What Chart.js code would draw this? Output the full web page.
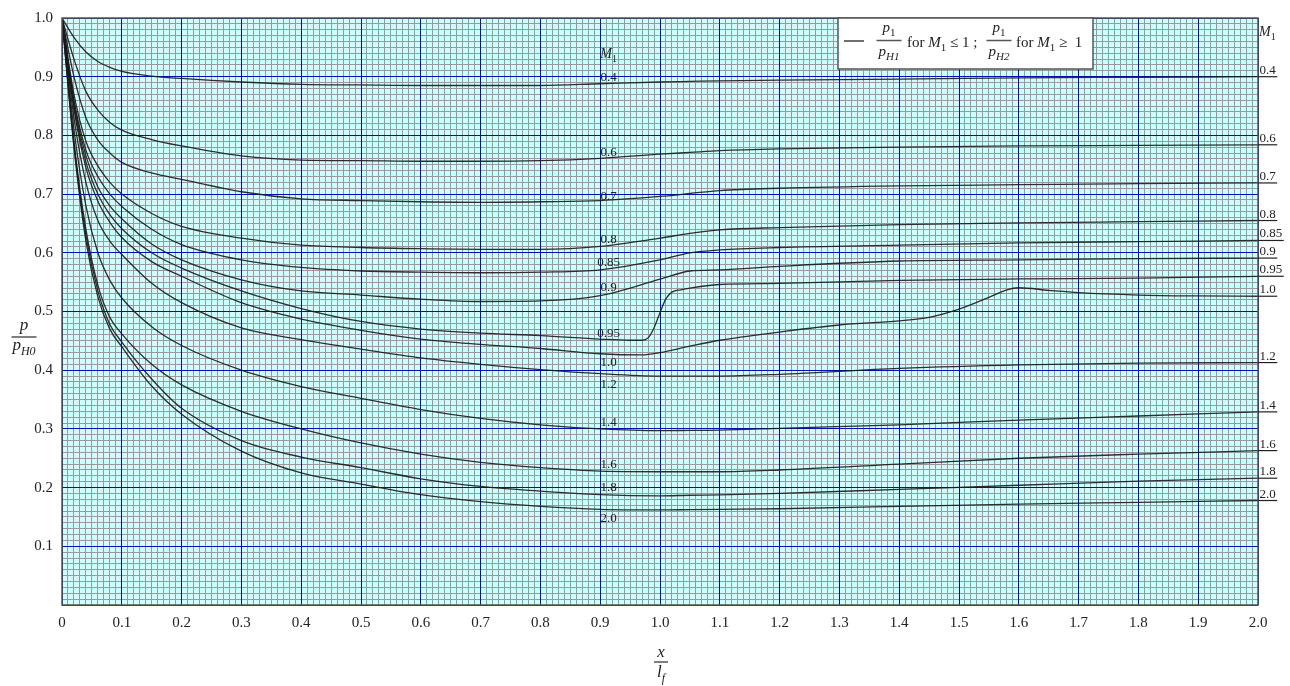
<!DOCTYPE html>
<html><head><meta charset="utf-8">
<script src="https://cdn.jsdelivr.net/npm/chart.js@4.4.0/dist/chart.umd.min.js"></script>
<style>html,body{margin:0;padding:0;background:#fff;}canvas{display:block}</style>
</head><body>
<canvas id="c" width="1290" height="686"></canvas>
<script>
// ---------------- DATA ----------------
const machNumbers = ['0.4','0.6','0.7','0.8','0.85','0.9','0.95','1.0','1.2','1.4','1.6','1.8','2.0'];
const xTickLabels = ['0','0.1','0.2','0.3','0.4','0.5','0.6','0.7','0.8','0.9','1.0','1.1','1.2','1.3','1.4','1.5','1.6','1.7','1.8','1.9','2.0'];
const yTickLabels = ['','0.1','0.2','0.3','0.4','0.5','0.6','0.7','0.8','0.9','1.0'];

const xBase = [0,0.02,0.04,0.06,0.08,0.1,0.15,0.2,0.3,0.4,0.5,0.6,0.7,0.8,0.9,1.0,1.05,1.1,1.2,1.4,1.6,1.8,2.0];
const p04  = [1.0,0.967,0.942,0.926,0.916,0.909,0.901,0.897,0.891,0.887,0.886,0.885,0.885,0.885,0.888,0.891,0.892,0.893,0.894,0.896,0.898,0.899,0.900];
const p06  = [1.0,0.93,0.875,0.843,0.822,0.809,0.793,0.782,0.765,0.758,0.757,0.756,0.756,0.757,0.761,0.768,0.771,0.774,0.777,0.780,0.782,0.783,0.784];
const p07  = [1.0,0.90,0.83,0.792,0.770,0.754,0.736,0.725,0.704,0.692,0.689,0.687,0.686,0.687,0.689,0.696,0.701,0.706,0.710,0.714,0.716,0.718,0.719];
const p08  = [1.0,0.87,0.79,0.748,0.720,0.700,0.667,0.645,0.625,0.613,0.609,0.607,0.606,0.606,0.611,0.625,0.633,0.639,0.643,0.648,0.651,0.653,0.655];
const p085 = [1.0,0.86,0.775,0.730,0.700,0.679,0.640,0.614,0.588,0.575,0.569,0.567,0.566,0.567,0.571,0.588,0.600,0.605,0.609,0.613,0.617,0.619,0.621];
const p09  = [1.0,0.855,0.765,0.712,0.680,0.658,0.615,0.588,0.554,0.535,0.528,0.521,0.517,0.518,0.527,0.555,0.569,0.571,0.577,0.586,0.588,0.590,0.591];
const p12  = [1.0,0.83,0.72,0.655,0.620,0.597,0.548,0.515,0.472,0.452,0.436,0.421,0.410,0.401,0.394,0.390,0.390,0.390,0.393,0.403,0.409,0.412,0.413];
const p14  = [1.0,0.81,0.68,0.600,0.553,0.523,0.474,0.442,0.400,0.372,0.352,0.333,0.318,0.307,0.300,0.297,0.2975,0.298,0.301,0.307,0.315,0.322,0.329];
const p16  = [1.0,0.79,0.64,0.545,0.490,0.462,0.410,0.375,0.330,0.300,0.276,0.257,0.243,0.234,0.228,0.227,0.227,0.227,0.230,0.240,0.250,0.257,0.263];
const p18  = [1.0,0.785,0.63,0.535,0.478,0.448,0.385,0.335,0.280,0.252,0.234,0.215,0.202,0.194,0.188,0.186,0.187,0.1875,0.190,0.197,0.204,0.211,0.216];
const p20  = [1.0,0.78,0.62,0.525,0.470,0.440,0.373,0.325,0.262,0.225,0.206,0.188,0.176,0.168,0.163,0.162,0.1625,0.163,0.164,0.168,0.172,0.175,0.178];

const x095 = [0,0.02,0.04,0.06,0.08,0.1,0.15,0.2,0.3,0.4,0.5,0.6,0.7,0.8,0.9,0.95,0.97,0.98,0.99,1.0,1.01,1.02,1.035,1.05,1.1,1.2,1.4,1.6,1.8,2.0];
const p095 = [1.0,0.85,0.755,0.700,0.665,0.641,0.600,0.574,0.535,0.505,0.483,0.470,0.463,0.459,0.453,0.451,0.451,0.455,0.472,0.498,0.522,0.533,0.537,0.540,0.546,0.548,0.553,0.5555,0.557,0.560];

const x10 = [0,0.02,0.04,0.06,0.08,0.1,0.15,0.2,0.3,0.4,0.5,0.6,0.7,0.8,0.9,0.97,1.0,1.05,1.1,1.2,1.3,1.4,1.45,1.5,1.55,1.58,1.6,1.65,1.7,1.8,1.9,2.0];
const p10 = [1.0,0.845,0.745,0.688,0.652,0.626,0.585,0.560,0.515,0.487,0.468,0.453,0.444,0.437,0.428,0.426,0.430,0.441,0.451,0.465,0.477,0.484,0.490,0.504,0.524,0.537,0.5405,0.536,0.532,0.528,0.5265,0.526];

const curveX = [xBase,xBase,xBase,xBase,xBase,xBase,x095,x10,xBase,xBase,xBase,xBase,xBase];
const curveP = [p04,p06,p07,p08,p085,p09,p095,p10,p12,p14,p16,p18,p20];

// inline label anchors (data units)
const inlineLabelX = 0.914;
const inlineLabelP = [0.9005,0.773,0.698,0.624,0.5857,0.543,0.4637,0.4148,0.3766,0.312,0.2417,0.2024,0.149];
const inlineHeaderP = 0.939;

// ---------------- HELPERS ----------------
const SERIF = '"Liberation Serif", "Times New Roman", serif';
function runRich(ctx, x, y, parts, size, draw) {
  let cx = x;
  for (const [t, st] of parts) {
    const italic = st && st.indexOf('i') >= 0;
    const sub = st && st.indexOf('s') >= 0;
    const fs = sub ? Math.round(size * 0.72) : size;
    ctx.font = (italic ? 'italic ' : '') + fs + 'px ' + SERIF;
    if (draw) ctx.fillText(t, cx, y + (sub ? size * 0.27 : 0));
    cx += ctx.measureText(t).width;
  }
  return cx - x;
}
function fraction(ctx, cx, barY, num, den, size, barW, numGap, denGap) {
  const nw = runRich(ctx, 0, 0, num, size, false);
  const dw = runRich(ctx, 0, 0, den, size, false);
  runRich(ctx, cx - nw / 2, barY - numGap, num, size, true);
  runRich(ctx, cx - dw / 2, barY + denGap, den, size, true);
  ctx.save();
  ctx.strokeStyle = '#555'; ctx.lineWidth = 1.5;
  ctx.beginPath(); ctx.moveTo(cx - barW / 2, barY); ctx.lineTo(cx + barW / 2, barY); ctx.stroke();
  ctx.restore();
}

const decorPlugin = {
  id: 'decor',
  beforeDraw(chart) {
    const {ctx, chartArea: a} = chart;
    ctx.save();
    ctx.fillStyle = '#ffffff';
    ctx.fillRect(0, 0, chart.width, chart.height);
    ctx.fillStyle = '#ccffff';
    ctx.fillRect(a.left, a.top, a.right - a.left, a.bottom - a.top);
    ctx.restore();
  },
  afterDatasetsDraw(chart) {
    const {ctx, chartArea: a, scales} = chart;
    const xs = scales.x, ys = scales.y;
    ctx.save();
    // plot frame
    ctx.strokeStyle = '#555'; ctx.lineWidth = 1.5;
    ctx.strokeRect(a.left, a.top, a.right - a.left, a.bottom - a.top);

    ctx.fillStyle = '#222'; ctx.textAlign = 'left'; ctx.textBaseline = 'alphabetic';
    // inline labels
    const lx = xs.getPixelForValue(inlineLabelX);
    machNumbers.forEach((m, i) => {
      ctx.font = '13px ' + SERIF;
      const w = ctx.measureText(m).width;
      ctx.fillText(m, lx - w / 2, ys.getPixelForValue(inlineLabelP[i]) + 4.5);
    });
    {
      const parts = [['M', 'i'], ['1', 's']];
      const w = runRich(ctx, 0, 0, parts, 14, false);
      runRich(ctx, lx - w / 2, ys.getPixelForValue(inlineHeaderP) + 4.5, parts, 14, true);
    }
    // right labels with underline at curve end
    chart.data.datasets.forEach((ds, i) => {
      const last = ds.data[ds.data.length - 1];
      const py = ys.getPixelForValue(last.y);
      ctx.font = '13px ' + SERIF;
      const w = ctx.measureText(machNumbers[i]).width;
      ctx.fillText(machNumbers[i], a.right + 1.5, py - 3);
      ctx.strokeStyle = '#222'; ctx.lineWidth = 1.2;
      ctx.beginPath(); ctx.moveTo(a.right, py); ctx.lineTo(a.right + w + 3, py); ctx.stroke();
    });
    runRich(ctx, a.right + 1, 36, [['M', 'i'], ['1', 's']], 14, true);

    // legend box
    ctx.fillStyle = '#ffffff';
    ctx.fillRect(838, a.top, 255, 51);
    ctx.strokeStyle = '#555'; ctx.lineWidth = 1.5;
    ctx.strokeRect(838, a.top, 255, 51);
    ctx.strokeStyle = '#222'; ctx.lineWidth = 1.3;
    ctx.beginPath(); ctx.moveTo(844, 41); ctx.lineTo(864, 41); ctx.stroke();
    ctx.fillStyle = '#222';
    fraction(ctx, 889, 40.5, [['p','i'],['1','s']], [['p','i'],['H1','is']], 15, 25, 9, 15);
    runRich(ctx, 907, 46.5, [['for ', ''], ['M', 'i'], ['1', 's'], [' \u2264 1 ;', '']], 15, true);
    fraction(ctx, 999, 40.5, [['p','i'],['1','s']], [['p','i'],['H2','is']], 15, 25, 9, 15);
    runRich(ctx, 1016, 46.5, [['for ', ''], ['M', 'i'], ['1', 's'], [' \u2265  1', '']], 15, true);

    // axis titles
    fraction(ctx, 24, 337, [['p','i']], [['p','i'],['H0','is']], 17, 25, 7, 13);
    fraction(ctx, 661, 662, [['x','i']], [['l','i'],['f','is']], 17, 14, 5, 15);
    ctx.restore();
  }
};

const datasets = curveP.map((ps, i) => ({
  label: 'M1 = ' + machNumbers[i],
  data: ps.map((p, k) => ({x: curveX[i][k], y: p})),
  borderColor: 'rgba(25,25,25,0.9)',
  borderWidth: 1.3,
  pointRadius: 0,
  fill: false,
  cubicInterpolationMode: 'monotone'
}));

const isMajor = v => Math.abs(v * 10 - Math.round(v * 10)) < 1e-6;
const minorColor = ctx => isMajor(ctx.tick.value) ? 'rgba(0,0,0,0)' : '#9a9a9a';
const majorColor = ctx => isMajor(ctx.tick.value) ? '#0a0ab4' : 'rgba(0,0,0,0)';

new Chart(document.getElementById('c'), {
  type: 'line',
  data: {datasets},
  options: {
    responsive: false,
    animation: false,
    devicePixelRatio: 1,
    layout: {padding: {left: 0, right: 32, top: 12, bottom: 0}},
    plugins: {legend: {display: false}, tooltip: {enabled: false}},
    scales: {
      xMinor: {
        type: 'linear', position: 'bottom', min: 0, max: 2, z: -1,
        ticks: {display: false, stepSize: 0.01, maxTicksLimit: 1000},
        grid: {color: minorColor, lineWidth: 1, drawTicks: false},
        border: {display: false},
        afterFit(s) { s.height = 0; }
      },
      yMinor: {
        type: 'linear', position: 'left', min: 0, max: 1, z: -1,
        ticks: {display: false, stepSize: 0.01, maxTicksLimit: 1000},
        grid: {color: minorColor, lineWidth: 1, drawTicks: false},
        border: {display: false},
        afterFit(s) { s.width = 0; }
      },
      x: {
        type: 'linear', position: 'bottom', min: 0, max: 2, z: 0,
        ticks: {
          stepSize: 0.1, autoSkip: false, maxRotation: 0, padding: 9, color: '#222',
          font: {family: SERIF, size: 15},
          callback: (v) => { const k = Math.round(v * 10); return xTickLabels[k] !== undefined ? xTickLabels[k] : ''; }
        },
        grid: {color: majorColor, lineWidth: 1, drawTicks: false},
        border: {display: false},
        afterFit(s) { s.height = 81; }
      },
      y: {
        type: 'linear', position: 'left', min: 0, max: 1, z: 0,
        ticks: {
          stepSize: 0.1, autoSkip: false, padding: 9, color: '#222',
          font: {family: SERIF, size: 15},
          callback: (v) => { const k = Math.round(v * 10); return yTickLabels[k] !== undefined ? yTickLabels[k] : ''; }
        },
        grid: {color: majorColor, lineWidth: 1, drawTicks: false},
        border: {display: false},
        afterFit(s) { s.width = 62; }
      }
    }
  },
  plugins: [decorPlugin]
});
</script>
</body></html>
